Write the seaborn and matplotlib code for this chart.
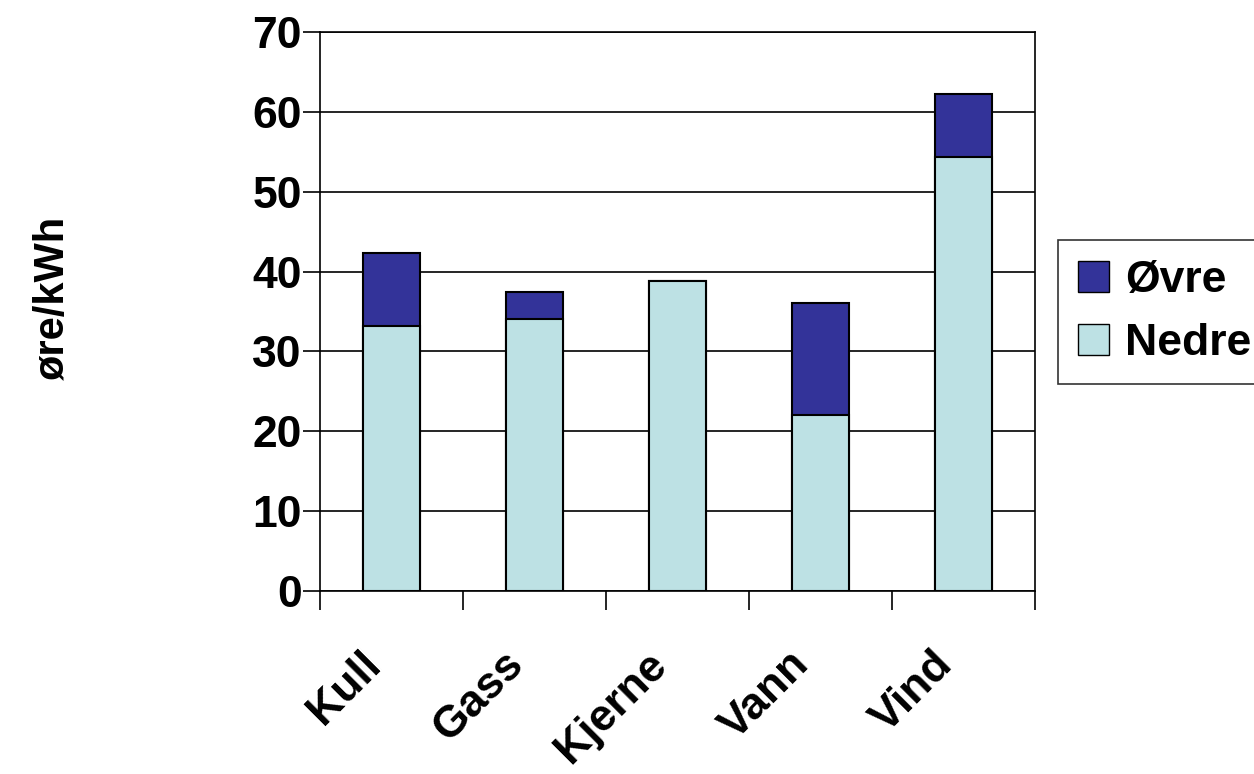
import numpy as np
import pandas as pd
import matplotlib
matplotlib.use("Agg")
import matplotlib.pyplot as plt
import matplotlib.transforms as mtransforms
import seaborn as sns
from matplotlib.patches import Patch

# ------------------------------------------
# Data
# ------------------------------------------
kilder = ["Kull", "Gass", "Kjerne", "Vann", "Vind"]
nedre = [33.2, 34.0, 38.8, 22.1, 54.3]
ovre = [9.1, 3.5, 0.0, 14.0, 7.9]

farge_ovre = "#333399"
farge_nedre = "#BDE1E4"

df = pd.DataFrame({"Kilde": kilder, "Nedre": nedre, "Øvre": ovre})
df["Total"] = df["Nedre"] + df["Øvre"]

sns.set_theme(style="white")
plt.rcParams["font.family"] = ["Liberation Sans", "DejaVu Sans"]
plt.rcParams["font.weight"] = "bold"
for key in ["text.color", "axes.labelcolor", "xtick.color", "ytick.color"]:
    plt.rcParams[key] = "black"

fig = plt.figure(figsize=(12.54, 7.74), dpi=100)
ax = fig.add_axes([0.2552, 0.2364, 0.5702, 0.7223])

# stacked bars: total first (dark), then lower part drawn over it (light)
sns.barplot(data=df, x="Kilde", y="Total", color=farge_ovre, saturation=1,
            width=0.4, edgecolor="black", linewidth=1.5, ax=ax)
sns.barplot(data=df, x="Kilde", y="Nedre", color=farge_nedre, saturation=1,
            width=0.4, edgecolor="black", linewidth=1.5, ax=ax)

ax.set_xlim(-0.5, len(kilder) - 0.5)
ax.set_ylim(0, 70)
ax.set_yticks(range(0, 71, 10))
ax.yaxis.grid(True, color="black", linewidth=1.2)
ax.set_axisbelow(True)
for s in ax.spines.values():
    s.set_color("black")
    s.set_linewidth(1.2)

ax.set_xticks(range(len(kilder)))
ax.set_xticklabels(kilder, rotation=45, ha="right", rotation_mode="anchor",
                   fontsize=32, fontweight="bold")
ax.set_xticks(np.arange(-0.5, len(kilder)), minor=True)
ax.tick_params(axis="x", which="major", length=0, pad=38)
ax.tick_params(axis="x", which="minor", length=14, width=1.2, color="black",
               direction="out", bottom=True)
ax.tick_params(axis="y", length=12, width=1.2, color="black", direction="out",
               left=True, labelsize=32, pad=1)
for lbl in ax.get_yticklabels():
    lbl.set_fontweight("bold")
shift = mtransforms.ScaledTranslation(-32 / 100, 0, fig.dpi_scale_trans)
for lbl in ax.get_xticklabels():
    lbl.set_transform(lbl.get_transform() + shift)

ax.set_xlabel("")
ax.set_ylabel("")
fig.text(0.042, 0.615, "øre/kWh", rotation=90, ha="center", va="center",
         fontsize=30, fontweight="bold")

handles = [Patch(facecolor=farge_ovre, edgecolor="black", label="Øvre"),
           Patch(facecolor=farge_nedre, edgecolor="black", label="Nedre")]
leg = fig.legend(handles=handles, loc="upper left",
                 bbox_to_anchor=(1058 / 1254, 1 - 240 / 774),
                 fontsize=32, frameon=True, fancybox=False,
                 handlelength=0.7, handleheight=0.7, handletextpad=0.35,
                 borderpad=0.45, labelspacing=0.5, borderaxespad=0)
leg.get_frame().set_edgecolor("black")
leg.get_frame().set_linewidth(1.2)
for t in leg.get_texts():
    t.set_fontweight("bold")

fig.savefig("out.png", dpi=100)
